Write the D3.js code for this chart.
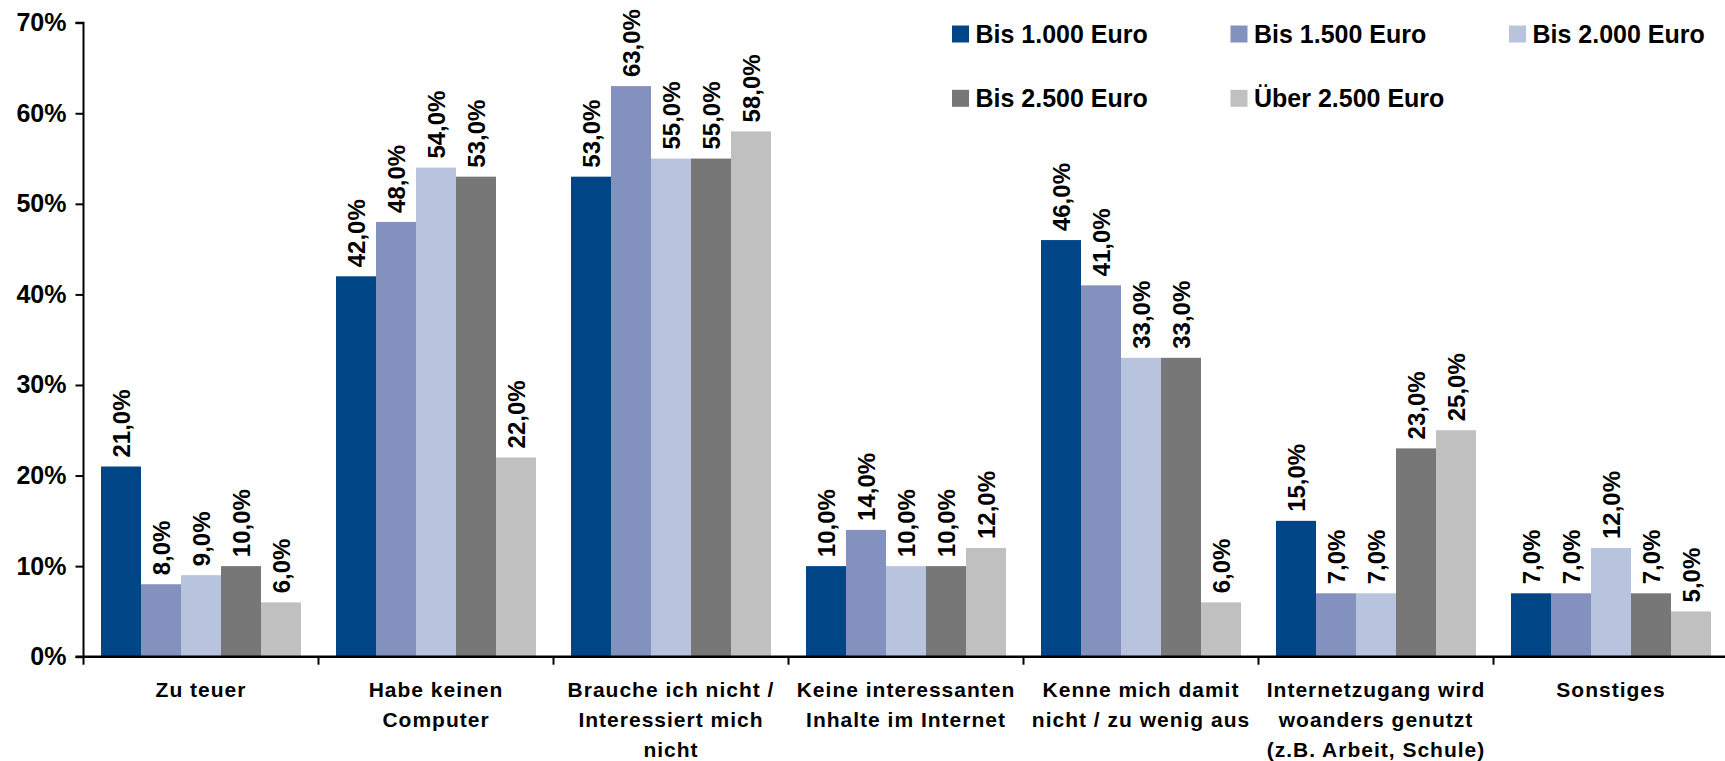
<!DOCTYPE html>
<html>
<head>
<meta charset="utf-8">
<script src="https://cdn.jsdelivr.net/npm/d3@7"></script>
<style>
  html, body { margin: 0; padding: 0; background: #fff; }
  svg { display: block; }
  text { font-family: "Liberation Sans", Arial, sans-serif; font-weight: bold; fill: #000; }
</style>
</head>
<body>
<svg id="chart" width="1725" height="761"></svg>
<script>
const categories = [
  "Zu teuer",
  "Habe keinen Computer",
  "Brauche ich nicht / Interessiert mich nicht",
  "Keine interessanten Inhalte im Internet",
  "Kenne mich damit nicht / zu wenig aus",
  "Internetzugang wird woanders genutzt (z.B. Arbeit, Schule)",
  "Sonstiges"
];
const categoryLines = [
  ["Zu teuer"],
  ["Habe keinen", "Computer"],
  ["Brauche ich nicht /", "Interessiert mich", "nicht"],
  ["Keine interessanten", "Inhalte im Internet"],
  ["Kenne mich damit", "nicht / zu wenig aus"],
  ["Internetzugang wird", "woanders genutzt", "(z.B. Arbeit, Schule)"],
  ["Sonstiges"]
];
const seriesNames = ["Bis 1.000 Euro", "Bis 1.500 Euro", "Bis 2.000 Euro", "Bis 2.500 Euro", "Über 2.500 Euro"];
const seriesColors = ["#004586", "#8391be", "#b8c3de", "#777777", "#c0c0c0"];
const bis1000 = [21, 42, 53, 10, 46, 15, 7];
const bis1500 = [8, 48, 63, 14, 41, 7, 7];
const bis2000 = [9, 54, 55, 10, 33, 7, 12];
const bis2500 = [10, 53, 55, 10, 33, 23, 7];
const ueber2500 = [6, 22, 58, 12, 6, 25, 5];
const seriesValues = [bis1000, bis1500, bis2000, bis2500, ueber2500];
const yTicks = [0, 10, 20, 30, 40, 50, 60, 70];

const svg = d3.select("#chart");
const x0Left = 83.5, bandW = 235;
const yTop = 22.7, yBottom = 656.7;

const x0 = d3.scaleBand().domain(categories).range([x0Left, x0Left + bandW * categories.length]).padding(0);
const x1 = d3.scaleBand().domain(seriesNames).range([17.5, bandW - 17.5]).padding(0);
const y = d3.scaleLinear().domain([0, 70]).range([yBottom, yTop]);

// bars
const groups = svg.append("g").selectAll("g")
  .data(categories)
  .join("g")
  .attr("transform", d => `translate(${x0(d)},0)`);

groups.each(function(cat, ci) {
  const g = d3.select(this);
  const rows = seriesNames.map((s, si) => ({ s, si, v: seriesValues[si][ci] }));
  g.selectAll("rect").data(rows).join("rect")
    .attr("x", d => x1(d.s))
    .attr("y", d => y(d.v))
    .attr("width", x1.bandwidth())
    .attr("height", d => y(0) - y(d.v))
    .attr("fill", d => seriesColors[d.si]);
  g.selectAll("text.val").data(rows).join("text")
    .attr("class", "val")
    .attr("transform", d => `translate(${x1(d.s) + x1.bandwidth() / 2},${y(d.v) - 9}) rotate(-90)`)
    .attr("dy", "0.36em")
    .attr("text-anchor", "start")
    .style("font-size", "24px")
    .text(d => d.v.toFixed(1).replace(".", ",") + "%");
});

// y axis
const yAxis = d3.axisLeft(y).tickValues(yTicks).tickSize(8).tickPadding(9).tickFormat(d => d + "%");
const yg = svg.append("g").attr("transform", `translate(${x0Left},0)`).call(yAxis);
yg.select(".domain").attr("stroke", "#000").attr("stroke-width", 2).attr("d", `M-8,${yTop}H0V${yBottom}`);
yg.selectAll(".tick line").attr("stroke", "#000").attr("stroke-width", 2);
yg.selectAll(".tick text").style("font-size", "25px").style("font-family", "'Liberation Sans', Arial, sans-serif").style("font-weight", "bold");

// x axis
const xAxis = d3.axisBottom(x0).tickSize(0).tickFormat("");
const xg = svg.append("g").attr("transform", `translate(0,${yBottom})`).call(xAxis);
xg.select(".domain").attr("stroke", "#000").attr("stroke-width", 2.5)
  .attr("d", `M${x0Left - 8},0H${x0Left + bandW * categories.length}`);
const boundaries = categories.map(c => x0(c)).concat([x0Left + bandW * categories.length]);
xg.selectAll("line.bt").data(boundaries).join("line")
  .attr("class", "bt")
  .attr("x1", d => d).attr("x2", d => d)
  .attr("y1", 0).attr("y2", 8)
  .attr("stroke", "#000").attr("stroke-width", 2);

// category labels
const cl = svg.append("g").selectAll("text").data(categories).join("text")
  .attr("text-anchor", "middle")
  .style("font-size", "21px")
  .style("letter-spacing", "1px")
  .attr("x", d => x0(d) + bandW / 2)
  .attr("y", 696.5);
cl.each(function(d, i) {
  d3.select(this).selectAll("tspan").data(categoryLines[i]).join("tspan")
    .attr("x", x0(d) + bandW / 2)
    .attr("dy", (t, j) => j === 0 ? 0 : 30)
    .text(t => t);
});

// legend
const legendPos = [
  [952, 34], [1230.5, 34], [1509, 34],
  [952, 98.3], [1230.5, 98.3]
];
const lg = svg.append("g").selectAll("g").data(seriesNames).join("g")
  .attr("transform", (d, i) => `translate(${legendPos[i][0]},${legendPos[i][1]})`);
lg.append("rect").attr("x", 0).attr("y", -8.5).attr("width", 17).attr("height", 17)
  .attr("fill", (d, i) => seriesColors[i]);
lg.append("text").attr("x", 23.5).attr("y", 0).attr("dy", "0.36em")
  .style("font-size", "25px").text(d => d);
</script>
</body>
</html>
